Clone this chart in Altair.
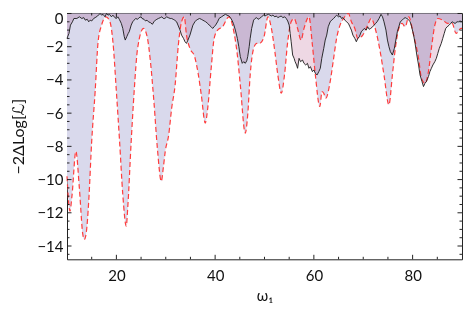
import altair as alt
import pandas as pd

# ---- data ----
red_x = [10.0, 10.6, 11.0, 11.8, 12.5, 13.2, 13.5, 13.9, 14.4, 15.0,
         15.7, 16.3, 17.0, 17.9, 18.7, 19.3, 20.0, 20.65, 21.3, 22.0,
         22.3, 23.0, 23.6, 24.3, 25.5, 26.3, 26.9, 27.6, 28.3, 29.1,
         29.5, 29.9, 30.6, 31.2, 31.9, 32.55, 33.2, 33.75, 34.2, 34.9,
         35.85, 36.5, 37.2, 38.0, 38.5, 39.2, 39.8, 40.5, 41.5, 42.8,
         43.8, 44.5, 45.1, 46.1, 46.6, 47.1, 47.8, 48.4, 49.0, 49.9,
         50.7, 51.4, 52.1, 52.7, 53.4, 54.05, 54.7, 55.4, 56.0, 56.7,
         57.4, 58.0, 59.0, 59.7, 60.3, 61.2, 61.65, 62.0, 62.4, 63.3,
         64.0, 64.6, 65.3, 66.0, 67.0, 67.6, 68.3, 68.9, 69.9, 70.9,
         71.6, 72.6, 73.55, 74.2, 75.2, 75.9, 76.5, 77.2, 77.85, 78.5,
         79.2, 80.2, 81.2, 81.8, 82.5, 83.2, 83.8, 84.5, 85.1, 86.1,
         87.1, 88.0, 88.8, 89.8, 90.0]
red_y = [-9.8, -11.9, -11.0, -8.3, -10.5, -13.3, -13.6, -13.2, -11.3, -7.7,
         -4.7, -1.7, -0.7, -0.2, -0.5, -1.7, -4.7, -7.7, -10.9, -12.8,
         -11.7, -7.7, -4.7, -2.1, -0.9, -1.5, -2.9, -5.3, -8.1, -10.1,
         -9.3, -8.3, -7.3, -5.7, -4.3, -1.9, -0.5, -0.2, -1.3, -2.1,
         -2.6, -3.5, -4.9, -6.6, -5.7, -3.3, -1.5, -1.0, -0.8, -0.2,
         -1.1, -2.5, -4.3, -7.2, -6.1, -3.7, -2.1, -1.8, -1.8, -1.4,
         -0.2, -0.9, -2.3, -3.7, -4.8, -3.7, -1.7, -0.5, -0.3, -0.9,
         -1.6, -0.9, -0.2, -1.9, -3.7, -5.6, -4.7, -4.8, -5.1, -4.1,
         -2.7, -1.5, -0.7, -0.3, 0.0, -0.5, -0.9, -1.5, -1.3, -0.7,
         -0.3, -1.1, -2.5, -3.7, -5.5, -3.7, -2.1, -0.9, -0.6, -0.8,
         -0.2, -1.3, -2.7, -3.9, -4.2, -3.5, -2.1, -0.7, -0.3, -0.4,
         -0.6, -0.6, -1.2, -0.9, -0.9]

black_x = [10.0, 10.4, 10.7, 11.1, 11.4, 12.0, 12.5, 13.0, 13.4, 13.7,
           14.1, 14.4, 14.7, 15.0, 15.4, 15.7, 16.2, 16.7, 17.0, 17.3,
           17.7, 18.0, 18.3, 18.6, 19.0, 19.3, 19.7, 20.0, 20.3, 20.6,
           21.0, 21.3, 21.6, 21.8, 22.1, 22.4, 22.6, 23.0, 23.3, 23.6,
           23.9, 24.3, 24.6, 25.0, 25.2, 25.6, 25.9, 26.2, 26.5, 26.9,
           27.3, 27.6, 27.9, 28.2, 28.5, 28.9, 29.2, 29.5, 29.8, 30.2,
           30.5, 30.9, 31.2, 31.5, 31.8, 32.2, 32.55, 32.9, 33.2, 33.6,
           33.9, 34.2, 34.5, 34.9, 35.2, 35.5, 35.9, 36.2, 36.5, 36.85,
           37.2, 37.5, 37.8, 38.1, 38.5, 38.8, 39.2, 39.5, 39.8, 40.1,
           40.5, 40.8, 41.3, 41.8, 42.1, 42.4, 42.8, 43.1, 43.4, 43.7,
           44.1, 44.5, 44.8, 45.1, 45.5, 45.8, 46.1, 46.4, 46.6, 46.9,
           47.1, 47.4, 47.8, 48.1, 48.4, 48.7, 49.0, 49.4, 49.8, 50.1,
           50.4, 50.8, 51.1, 51.4, 51.7, 52.1, 52.4, 52.7, 53.0, 53.4,
           53.7, 54.1, 54.4, 54.7, 55.0, 55.2, 55.4, 55.7, 56.0, 56.2,
           56.5, 56.7, 57.0, 57.3, 57.7, 58.0, 58.35, 58.7, 59.0, 59.3,
           59.7, 60.0, 60.3, 60.65, 61.0, 61.3, 61.6, 62.0, 62.3, 62.6,
           62.9, 63.3, 63.6, 64.0, 64.3, 64.6, 65.0, 65.3, 65.6, 65.9,
           66.3, 66.6, 67.0, 67.3, 67.6, 67.9, 68.3, 68.6, 68.9, 69.2,
           69.6, 69.9, 70.2, 70.6, 70.9, 71.2, 71.5, 71.9, 72.2, 72.5,
           72.8, 73.2, 73.6, 73.9, 74.2, 74.6, 74.9, 75.2, 75.5, 75.9,
           76.3, 76.6, 76.9, 77.2, 77.5, 77.9, 78.2, 78.5, 78.8, 79.1,
           79.5, 79.8, 80.2, 80.5, 80.85, 81.2, 81.5, 81.9, 82.2, 82.5,
           82.8, 83.2, 83.5, 83.8, 84.1, 84.5, 84.8, 85.1, 85.4, 85.8,
           86.1, 86.4, 86.7, 87.0, 87.4, 87.7, 88.0, 88.3, 88.6, 89.0,
           89.3, 89.6, 90.0]
black_y = [-1.5, -1.2, -0.7, -0.5, -0.3, -0.3, -0.2, -0.3, -0.25, -0.4,
           -0.35, -0.5, -0.4, -0.45, -0.3, -0.25, -0.15, 0.0, -0.1, -0.05,
           -0.2, 0.0, -0.1, -0.05, -0.2, -0.1, -0.25, -0.3, -0.2, -0.35,
           -0.6, -0.9, -1.4, -1.6, -1.4, -1.2, -1.1, -0.7, -0.5, -0.4,
           -0.3, -0.35, -0.25, -0.2, -0.3, -0.35, -0.45, -0.4, -0.5, -0.55,
           -0.65, -0.5, -0.4, -0.35, -0.3, -0.25, -0.2, -0.3, -0.3, -0.2,
           -0.25, -0.3, -0.3, -0.35, -0.4, -0.5, -0.75, -1.0, -1.3, -1.5,
           -1.7, -1.8, -1.6, -1.3, -1.0, -0.7, -0.5, -0.4, -0.35, -0.3,
           -0.35, -0.4, -0.45, -0.5, -0.6, -0.7, -0.8, -0.9, -0.8, -0.7,
           -0.5, -0.3, -0.2, -0.1, -0.05, -0.1, -0.15, -0.25, -0.4, -0.6,
           -1.0, -1.5, -2.0, -2.6, -3.0, -2.9, -3.0, -2.85, -2.6, -2.0,
           -1.5, -0.9, -0.4, -0.3, -0.25, -0.35, -0.3, -0.2, -0.1, -0.15,
           -0.1, -0.05, -0.1, -0.15, -0.1, -0.2, -0.15, -0.25, -0.2, -0.15,
           -0.25, -0.2, -0.3, -0.45, -0.7, -1.2, -1.7, -2.5, -2.7, -2.9,
           -3.1, -3.3, -2.7, -2.9, -2.8, -3.0, -3.1, -3.0, -3.3, -3.2,
           -3.5, -3.4, -3.6, -3.7, -3.5, -3.3, -2.7, -2.1, -1.6, -1.3,
           -0.8, -0.5, -0.4, -0.3, -0.2, -0.1, -0.2, -0.15, -0.3, -0.25,
           -0.4, -0.5, -0.6, -0.8, -1.0, -1.3, -1.5, -1.7, -1.5, -1.4,
           -1.1, -1.0, -0.9, -1.0, -0.8, -0.95, -0.9, -0.8, -0.7, -0.6,
           -0.5, -0.3, -0.05, -0.2, -0.5, -1.0, -1.6, -2.0, -2.3, -2.5,
           -2.1, -1.6, -1.1, -0.8, -0.5, -0.4, -0.3, -0.25, -0.3, -0.35,
           -0.5, -0.8, -1.3, -1.8, -2.5, -3.1, -3.7, -4.1, -4.4, -4.2,
           -4.1, -3.8, -3.5, -3.3, -3.1, -2.9, -2.7, -2.4, -2.1, -1.8,
           -1.5, -1.2, -0.9, -0.8, -0.7, -0.6, -0.5, -0.55, -0.6, -0.5,
           -0.5, -0.45, -0.5]

assert len(red_x) == len(red_y)
assert len(black_x) == len(black_y)

x_major = [20, 40, 60, 80]
x_minor = [15, 25, 30, 35, 45, 50, 55, 65, 70, 75, 85]
y_major = [0, -2, -4, -6, -8, -10, -12, -14]
y_minor = [v / 2 for v in range(-29, 0) if v % 4 != 0]

red = pd.DataFrame({"w": red_x, "L": red_y})
black = pd.DataFrame({"w": black_x, "L": black_y})
xmaj = pd.DataFrame({"w": x_major})
xmin = pd.DataFrame({"w": x_minor})
ymaj = pd.DataFrame({"L": y_major})
ymin = pd.DataFrame({"L": y_minor})

W, H = 395, 246.3
FONT = "Lato, DejaVu Sans"
xs = alt.Scale(domain=[10, 90], nice=False, zero=False)
ys = alt.Scale(domain=[-14.8, 0.03], nice=False, zero=False)

xaxis = alt.Axis(values=x_major, ticks=False, tickSize=0, domain=False, grid=False,
                 labelFont=FONT, labelFontSize=15, labelColor="#111", labelPadding=9,
                 title="ω₁", titleFont=FONT, titleFontSize=15, titleFontWeight="normal",
                 titleColor="#111", titleY=29)
yaxis = alt.Axis(values=y_major, ticks=False, tickSize=0, domain=False, grid=False,
                 labelFont=FONT, labelFontSize=15, labelColor="#111", labelPadding=4,
                 labelOffset={"condition": {"test": "datum.value == 0", "value": 5},
                              "value": 0},
                 title="−2ΔLog[ℒ]", titleFont=FONT, titleFontSize=16,
                 titleFontWeight="normal", titleColor="#111", titleX=-41)

X = alt.X("w:Q", scale=xs, axis=xaxis)
Y = alt.Y("L:Q", scale=ys, axis=yaxis)

red_area = alt.Chart(red).mark_area(color="#d9d9ec", interpolate="monotone").encode(
    x=X, y=Y, y2=alt.datum(0))
black_area = alt.Chart(black).mark_area(color="#eed8e4", blend="multiply").encode(
    x=X, y=Y, y2=alt.datum(0))
red_line = alt.Chart(red).mark_line(color="#ff3c3c", strokeWidth=1.2, strokeDash=[5, 3],
                                    interpolate="monotone").encode(x=X, y=Y)
black_line = alt.Chart(black).mark_line(color="#1a1a1a", strokeWidth=0.9).encode(x=X, y=Y)

TC = "#222"
def xticks(df, length):
    bottom = alt.Chart(df).mark_rule(color=TC, strokeWidth=1).encode(
        x=X, y=alt.value(H), y2=alt.value(H - length))
    top = alt.Chart(df).mark_rule(color=TC, strokeWidth=1).encode(
        x=X, y=alt.value(0), y2=alt.value(length))
    return bottom + top

def yticks(df, length):
    left = alt.Chart(df).mark_rule(color=TC, strokeWidth=1).encode(
        y=Y, x=alt.value(0), x2=alt.value(length))
    right = alt.Chart(df).mark_rule(color=TC, strokeWidth=1).encode(
        y=Y, x=alt.value(W), x2=alt.value(W - length))
    return left + right

chart = alt.layer(
    red_area, black_area, red_line, black_line,
    xticks(xmaj, 4.5), xticks(xmin, 2.5), yticks(ymaj, 4.5), yticks(ymin, 2.5),
).properties(
    width=W, height=H,
    autosize=alt.AutoSizeParams(type="none"),
    padding={"left": 59, "top": 5, "right": 1, "bottom": 46},
).configure_view(stroke="#222", strokeWidth=1)

chart.save("out.html", embed_options={"renderer": "svg", "actions": False})
